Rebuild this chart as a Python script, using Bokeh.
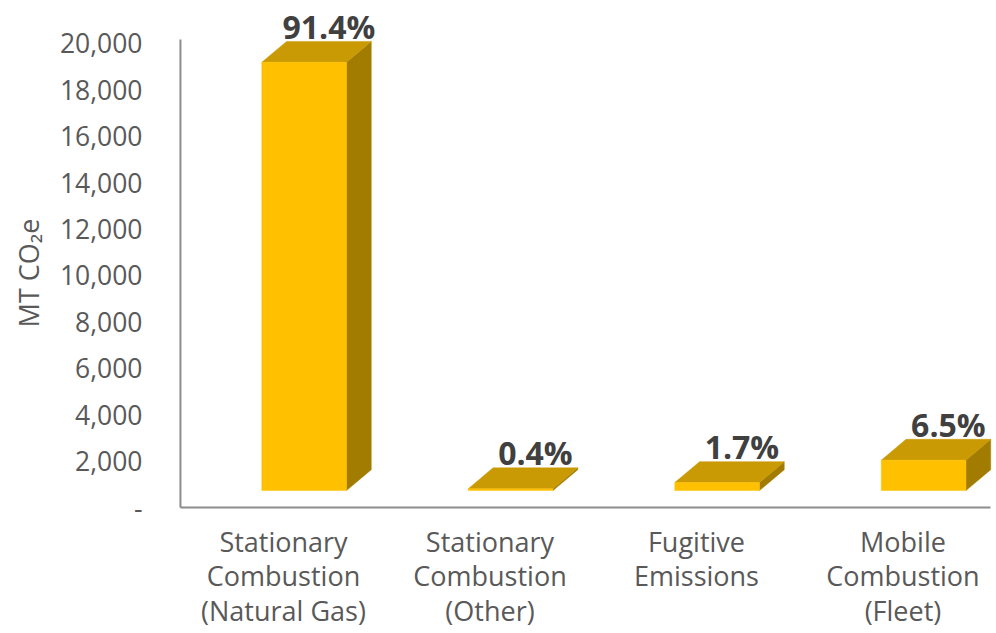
from bokeh.plotting import figure
from bokeh.models import Range1d, FixedTicker, NumeralTickFormatter, ColumnDataSource
from bokeh.embed import file_html
from bokeh.resources import INLINE
from bokeh.core.properties import value

# Emissions by source (MT CO2e)
categories = [
    "Stationary\nCombustion\n(Natural Gas)",
    "Stationary\nCombustion\n(Other)",
    "Fugitive\nEmissions",
    "Mobile\nCombustion\n(Fleet)",
]
emissions = [18460, 80, 345, 1310]
share_labels = ["91.4%", "0.4%", "1.7%", "6.5%"]
y_ticks = list(range(0, 20001, 2000))

FONT = "Open Sans"
FRONT = "#FFC000"
TOP = "#C99A04"
SIDE = "#A27C00"
AXIS = "#8C8C8C"
TEXT = "#595959"

# pseudo-3D geometry (data units)
floor = 730          # lift of the bar fronts above the axis floor
offset = 0.10        # shift of the bar front from the category centre
half_w = 0.205       # half width of a bar front
dx, dy = 0.12, 900   # oblique depth of each bar

p = figure(width=996, height=633, output_backend="svg", toolbar_location=None,
           x_range=Range1d(-0.523, 3.453), y_range=Range1d(-129, 21853),
           min_border_left=175, min_border_right=0, min_border_top=0,
           min_border_bottom=123)
p.outline_line_color = None
p.grid.visible = False
p.background_fill_color = "white"
p.border_fill_color = "white"

xs_front, ys_front, xs_top, ys_top, xs_side, ys_side = [], [], [], [], [], []
for i, v in enumerate(emissions):
    l = i + offset - half_w
    r = i + offset + half_w
    b = floor
    t = floor + v
    xs_front.append([l, r, r, l]); ys_front.append([b, b, t, t])
    xs_top.append([l, r, r + dx, l + dx]); ys_top.append([t, t, t + dy, t + dy])
    xs_side.append([r, r + dx, r + dx, r]); ys_side.append([b, b + dy, t + dy, t])

p.patches(xs_side, ys_side, fill_color=SIDE, line_color=SIDE, line_width=0.5)
p.patches(xs_top, ys_top, fill_color=TOP, line_color=TOP, line_width=0.5)
p.patches(xs_front, ys_front, fill_color=FRONT, line_color=FRONT, line_width=0.5)

# share labels above each bar
src = ColumnDataSource(dict(
    x=[i + offset + dx for i in range(len(emissions))],
    y=[floor + v + dy for v in emissions],
    t=share_labels,
))
p.text(x="x", y="y", text="t", source=src, text_align="center",
       text_baseline="alphabetic", y_offset=-15,
       text_font=value(FONT), text_font_style="bold",
       text_font_size="32px", text_color="#404040")

# axis lines
x_axis_pos = -0.499
p.segment(x0=[x_axis_pos], y0=[0], x1=[x_axis_pos], y1=[20172],
          line_color=AXIS, line_width=2)
p.segment(x0=[x_axis_pos], y0=[0], x1=[3.424], y1=[0],
          line_color=AXIS, line_width=2)

# y axis
yax = p.yaxis[0]
yax.ticker = FixedTicker(ticks=y_ticks)
yax.formatter = NumeralTickFormatter(format="0,0")
yax.major_label_overrides = {0: "-"}
yax.axis_line_color = None
yax.major_tick_line_color = None
yax.minor_tick_line_color = None
yax.major_label_standoff = 27
yax.major_label_text_font = FONT
yax.major_label_text_font_size = "26.5px"
yax.major_label_text_color = TEXT
# trailing no-break spaces nudge the rotated title towards the axis middle
yax.axis_label = "MT CO₂e" + "\u00a0" * 5
yax.axis_label_text_font = FONT
yax.axis_label_text_font_size = "27px"
yax.axis_label_text_font_style = "normal"
yax.axis_label_text_color = TEXT
yax.axis_label_standoff = 10

# x axis
xax = p.xaxis[0]
xax.ticker = FixedTicker(ticks=list(range(len(categories))))
xax.major_label_overrides = {i: c for i, c in enumerate(categories)}
xax.axis_line_color = None
xax.major_tick_line_color = None
xax.minor_tick_line_color = None
xax.major_label_standoff = 6
xax.major_label_text_font = FONT
xax.major_label_text_font_size = "27px"
xax.major_label_text_color = TEXT
xax.major_label_text_line_height = 0.94

open("out.html", "w").write(file_html(p, INLINE))
